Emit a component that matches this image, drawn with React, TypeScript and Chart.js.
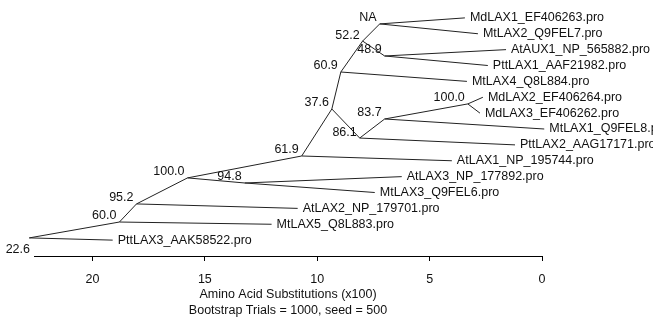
import React, { useEffect, useRef } from 'react';
import { Chart, registerables } from 'chart.js';

Chart.register(...registerables);

// Leaves (top to bottom)
const leafNames = [
  'MdLAX1_EF406263.pro',
  'MtLAX2_Q9FEL7.pro',
  'AtAUX1_NP_565882.pro',
  'PttLAX1_AAF21982.pro',
  'MtLAX4_Q8L884.pro',
  'MdLAX2_EF406264.pro',
  'MdLAX3_EF406262.pro',
  'MtLAX1_Q9FEL8.pro',
  'PttLAX2_AAG17171.pro',
  'AtLAX1_NP_195744.pro',
  'AtLAX3_NP_177892.pro',
  'MtLAX3_Q9FEL6.pro',
  'AtLAX2_NP_179701.pro',
  'MtLAX5_Q8L883.pro',
  'PttLAX3_AAK58522.pro',
];
const leafDist = [3.43, 2.85, 1.6, 2.41, 3.34, 2.63, 2.76, -0.1, 1.2, 4.01, 6.24, 7.44, 10.87, 12.03, 19.1];
const leafRow = [0, 1, 2, 3, 4, 5, 6, 7, 8, 9, 10, 11, 12, 13, 14];
const leafParent = [8, 8, 9, 9, 6, 12, 12, 11, 10, 4, 13, 13, 2, 1, 0];

// Internal nodes
const nodeLabels = ['', '60.0', '95.2', '100.0', '61.9', '37.6', '60.9', '52.2', 'NA', '48.9', '86.1', '83.7', '100.0', '94.8'];
const nodeDist = [22.81, 18.8, 18.04, 15.77, 10.69, 9.35, 8.95, 7.98, 7.22, 7.0, 8.11, 7.0, 3.3, 13.23];
const nodeRow = [13.86, 12.86, 11.72, 10.08, 8.7, 5.74, 3.41, 1.46, 0.38, 2.4, 7.57, 6.37, 5.42, 10.4];
const nodeParent = [-1, 0, 1, 2, 3, 4, 5, 6, 7, 7, 5, 10, 11, 3];

const xTicks = [0, 5, 10, 15, 20];
const axisMax = 22.6;
const axisTitle = ['Amino Acid Substitutions (x100)', 'Bootstrap Trials = 1000, seed = 500'];

const FONT = '"Liberation Sans", Arial, sans-serif';
const FSIZE = 12.5;
const LINE = '#222';
const TEXT = '#111';

function buildEdges() {
  const ds: any[] = [];
  const mk = (a: { x: number; y: number }, b: { x: number; y: number }) => ({
    data: [a, b],
    showLine: true,
    borderColor: LINE,
    borderWidth: 1,
    pointRadius: 0,
    pointHoverRadius: 0,
    fill: false,
    clip: false as any,
  });
  nodeParent.forEach((p, i) => {
    if (p < 0) return;
    ds.push(mk({ x: nodeDist[p], y: nodeRow[p] }, { x: nodeDist[i], y: nodeRow[i] }));
  });
  leafParent.forEach((p, i) => {
    ds.push(mk({ x: nodeDist[p], y: nodeRow[p] }, { x: leafDist[i], y: leafRow[i] }));
  });
  return ds;
}

const labelPlugin = {
  id: 'treeLabels',
  afterDatasetsDraw(chart: any) {
    const { ctx, scales, chartArea } = chart;
    const xs = scales.x;
    const ys = scales.y;
    ctx.save();
    ctx.font = `${FSIZE}px ${FONT}`;
    ctx.fillStyle = TEXT;
    // leaf labels
    ctx.textAlign = 'left';
    ctx.textBaseline = 'middle';
    leafNames.forEach((n, i) => {
      ctx.fillText(n, xs.getPixelForValue(leafDist[i]) + 5, ys.getPixelForValue(leafRow[i]));
    });
    // node labels
    ctx.textAlign = 'right';
    nodeLabels.forEach((n, i) => {
      if (!n) return;
      ctx.fillText(n, xs.getPixelForValue(nodeDist[i]) - 3, ys.getPixelForValue(nodeRow[i]) - 6);
    });
    // axis max label
    ctx.fillText(String(axisMax), xs.getPixelForValue(axisMax) - 4, chartArea.bottom - 6);
    ctx.restore();
  },
};

export default function App() {
  const ref = useRef<HTMLCanvasElement | null>(null);
  useEffect(() => {
    if (!ref.current) return;
    const chart = new Chart(ref.current, {
      type: 'scatter',
      data: { datasets: buildEdges() },
      options: {
        animation: false,
        responsive: false,
        devicePixelRatio: 1,
        layout: { padding: { left: 34, right: 111, top: 2, bottom: 0 } },
        plugins: { legend: { display: false }, tooltip: { enabled: false } },
        events: [],
        scales: {
          x: {
            type: 'linear',
            reverse: true,
            min: 0,
            max: axisMax,
            afterBuildTicks: (scale: any) => {
              scale.ticks = xTicks.map((v) => ({ value: v }));
            },
            afterFit: (scale: any) => {
              scale.height = 64;
            },
            grid: { display: true, drawOnChartArea: false, drawTicks: true, tickLength: 5, color: '#000', lineWidth: 1 },
            border: { display: true, color: '#000', width: 1 },
            ticks: {
              color: TEXT,
              font: { family: FONT, size: FSIZE },
              padding: 11,
              maxRotation: 0,
              autoSkip: false,
              callback: (v: any) => String(v),
            },
            title: {
              display: true,
              text: axisTitle,
              color: TEXT,
              font: { family: FONT, size: FSIZE, lineHeight: 1.28 },
              padding: { top: 0, bottom: 1 },
            },
          },
          y: {
            type: 'linear',
            display: false,
            reverse: true,
            min: -1,
            max: 15,
          },
        },
      },
      plugins: [labelPlugin],
    });
    return () => chart.destroy();
  }, []);
  return (
    <div style={{ position: 'absolute', left: 0, top: 0, width: 653, height: 320, background: '#fff' }}>
      <canvas ref={ref} width={653} height={320} />
    </div>
  );
}
